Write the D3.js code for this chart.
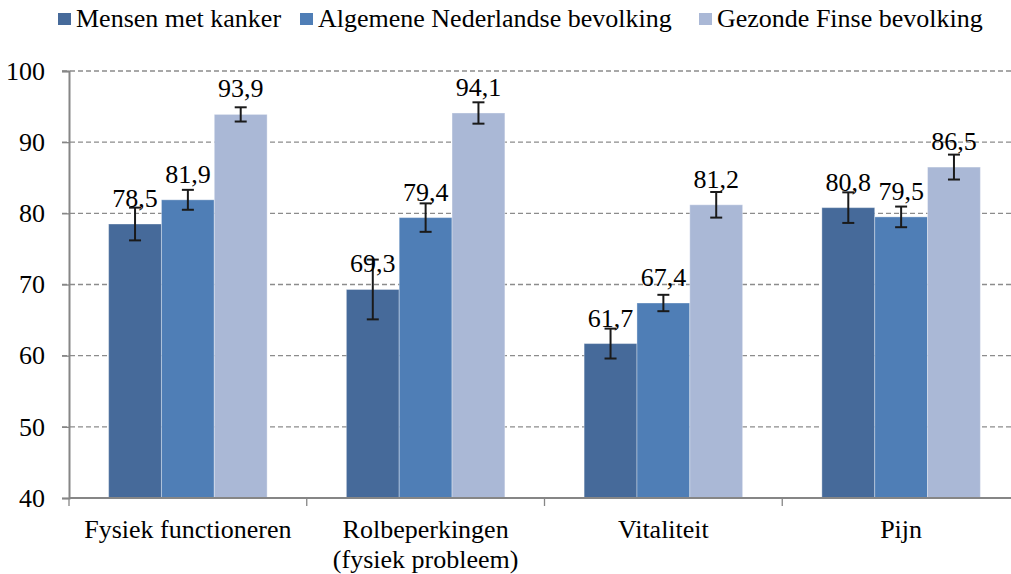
<!DOCTYPE html>
<html><head><meta charset="utf-8">
<script src="https://cdn.jsdelivr.net/npm/d3@7"></script>
<style>body{margin:0;background:#fff}svg{display:block}</style>
</head><body>
<svg id="c" width="1011" height="574"></svg>
<script>
const categories = [["Fysiek functioneren"], ["Rolbeperkingen", "(fysiek probleem)"], ["Vitaliteit"], ["Pijn"]];
const seriesNames = ["Mensen met kanker", "Algemene Nederlandse bevolking", "Gezonde Finse bevolking"];
const kanker = [78.5, 69.3, 61.7, 80.8];
const nederland = [81.9, 79.4, 67.4, 79.5];
const finland = [93.9, 94.1, 81.2, 86.5];
const kankerErr = [2.3, 4.2, 2.1, 2.15];
const nederlandErr = [1.4, 2.0, 1.15, 1.45];
const finlandErr = [1.0, 1.5, 1.8, 1.75];
const yTicks = [40, 50, 60, 70, 80, 90, 100];
const colors = ["#466a9a", "#4f7eb6", "#aab8d6"];

const values = [kanker, nederland, finland];
const errs = [kankerErr, nederlandErr, finlandErr];
const FONT = "'Liberation Serif'";
const svg = d3.select("#c").style("font-family", FONT);
const pLeft = 69, pRight = 1020, pTop = 71, pBottom = 498;
const x0 = d3.scaleBand().domain(d3.range(categories.length)).range([pLeft, pRight]).paddingInner(0).paddingOuter(0);
const inner = 3 / 4.5;
const x1 = d3.scaleBand().domain(d3.range(3)).range([0, x0.bandwidth() * inner]);
const y = d3.scaleLinear().domain([40, 100]).range([pBottom, pTop]);
const fs = 26;

function txt(sel) { return sel.style("font-family", FONT).attr("font-size", fs).attr("fill", "#000"); }

// gridlines
svg.append("g").selectAll("line").data(yTicks.filter(t => t > 40)).join("line")
  .attr("x1", pLeft - 7).attr("x2", pRight).attr("y1", d => y(d)).attr("y2", d => y(d))
  .attr("stroke", "#8c8c8c").attr("stroke-width", 1.3).attr("stroke-dasharray", "5,3");

// y axis
const ya = svg.append("g").attr("transform", `translate(${pLeft},0)`).call(d3.axisLeft(y).tickValues(yTicks).tickSize(7).tickPadding(17));
ya.select(".domain").attr("stroke", "#868686").attr("stroke-width", 2);
ya.selectAll(".tick line").attr("stroke", "#868686").attr("stroke-width", 1.3);
txt(ya.selectAll(".tick text"));

// bars
const off = (x0.bandwidth() - x0.bandwidth() * inner) / 2;
values.forEach((vals, s) => {
  const g = svg.append("g");
  g.selectAll("rect").data(vals).join("rect")
    .attr("x", (d, i) => x0(i) + off + x1(s)).attr("width", x1.bandwidth())
    .attr("y", d => y(d)).attr("height", d => y(40) - y(d))
    .attr("fill", colors[s]).attr("stroke", "rgba(255,255,255,0.35)").attr("stroke-width", 1);
});

// x axis
svg.append("line").attr("x1", pLeft).attr("x2", pRight).attr("y1", pBottom).attr("y2", pBottom).attr("stroke", "#868686").attr("stroke-width", 2);
svg.append("g").selectAll("line").data(d3.range(categories.length + 1)).join("line")
  .attr("x1", i => pLeft + i * x0.bandwidth()).attr("x2", i => pLeft + i * x0.bandwidth())
  .attr("y1", pBottom).attr("y2", pBottom + 8).attr("stroke", "#868686").attr("stroke-width", 1.3);

// category labels
categories.forEach((lines, i) => {
  const t = txt(svg.append("text")).attr("x", x0(i) + x0.bandwidth() / 2).attr("y", 538).attr("text-anchor", "middle");
  lines.forEach((l, k) => t.append("tspan").attr("x", x0(i) + x0.bandwidth() / 2).attr("dy", k === 0 ? 0 : 30).text(l));
});

// error bars and labels
values.forEach((vals, s) => {
  vals.forEach((v, i) => {
    const cx = x0(i) + off + x1(s) + x1.bandwidth() / 2;
    const e = errs[s][i];
    const g = svg.append("g").attr("stroke", "#1a1a1a").attr("stroke-width", 2);
    g.append("line").attr("x1", cx).attr("x2", cx).attr("y1", y(v + e)).attr("y2", y(v - e));
    g.append("line").attr("x1", cx - 6).attr("x2", cx + 6).attr("y1", y(v + e)).attr("y2", y(v + e));
    g.append("line").attr("x1", cx - 6).attr("x2", cx + 6).attr("y1", y(v - e)).attr("y2", y(v - e));
    txt(svg.append("text")).attr("x", cx).attr("y", y(v) - 17).attr("text-anchor", "middle")
      .text(v.toFixed(1).replace(".", ","));
  });
});

// legend
const legX = [58, 300, 699];
seriesNames.forEach((n, s) => {
  svg.append("rect").attr("x", legX[s]).attr("y", 13).attr("width", 13).attr("height", 12).attr("fill", colors[s]);
  txt(svg.append("text")).attr("x", legX[s] + 18).attr("y", 27).text(n);
});
</script>
</body></html>
